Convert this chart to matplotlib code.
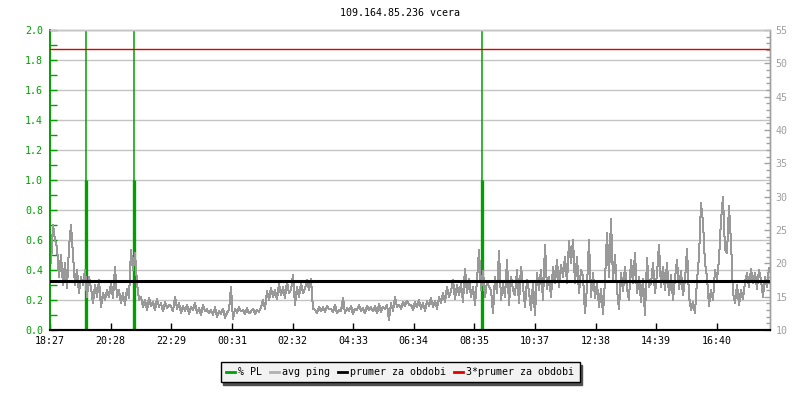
import matplotlib
matplotlib.use("Agg")
import matplotlib.pyplot as plt
from matplotlib.lines import Line2D
import numpy as np

# ---------------- data ----------------
title = "109.164.85.236 vcera"
start_label = "18:27"
tick_labels = ["18:27", "20:28", "22:29", "00:31", "02:32", "04:33",
               "06:34", "08:35", "10:37", "12:38", "14:39", "16:40"]
span_minutes = 1440
sample_step = 4  # minutes between ping samples

# average ping [ms], one value every 4 minutes starting at 18:27
avg_ping = [
    20.1, 25.8, 23.5, 22.4, 17.9, 21.2, 16.8, 20.1, 16.3, 22.4, 25.8, 21.2, 16.8, 19.0, 15.6, 17.9, 16.8, 19.0, 15.0, 17.9,
    16.3, 14.0, 16.8, 15.0, 17.5, 13.5, 15.6, 14.5, 16.0, 15.0, 17.0, 14.8, 19.5, 15.0, 16.0, 14.0, 15.5, 13.8, 16.2, 14.8,
    22.0, 19.0, 21.5, 17.0, 14.5, 15.0, 13.5, 14.5, 13.0, 14.8, 13.6, 14.2, 13.0, 14.6, 13.5, 14.0, 12.8, 14.2, 13.3, 13.8,
    13.5, 12.8, 15.0, 13.2, 14.0, 12.5, 13.6, 12.9, 13.8, 12.4, 13.5, 13.0, 14.1, 12.6, 13.3, 12.2, 13.7, 12.8, 13.1, 12.5,
    13.0, 12.3, 13.4, 12.0, 12.8, 12.4, 13.2, 11.8, 12.6, 13.0, 16.4, 11.6, 13.2, 12.6, 13.4, 12.8, 13.0, 12.4, 13.3, 12.5,
    12.8, 13.2, 12.4, 13.0, 12.7, 13.4, 14.5, 13.2, 15.8, 14.5, 16.3, 15.0, 16.0, 14.6, 17.0, 15.2, 16.4, 14.8, 17.3, 15.5,
    16.0, 18.2, 13.8, 16.5, 15.0, 17.0, 15.5, 16.2, 17.5, 16.0, 17.6, 13.2, 13.0, 12.6, 13.5, 12.8, 13.4, 12.7, 13.6, 13.1,
    13.2, 12.7, 13.8, 12.5, 13.0, 12.8, 14.8, 12.6, 13.3, 12.9, 13.6, 12.4, 13.2, 13.0, 13.7, 12.8, 13.3, 12.5, 13.6, 13.0,
    13.4, 12.8, 13.6, 12.5, 13.9, 12.7, 13.5, 13.1, 13.8, 11.5, 14.0, 12.9, 15.0, 13.5, 13.8, 13.2, 14.2, 13.6, 14.4, 13.8,
    13.8, 13.0, 14.2, 13.4, 14.5, 13.2, 14.0, 12.9, 14.3, 13.6, 14.8, 13.5, 14.4, 13.2, 14.9, 14.0, 15.5, 14.2, 16.5, 15.0,
    15.8, 17.5, 14.6, 16.8, 15.2, 17.0, 14.2, 19.2, 15.5, 17.6, 15.0, 16.4, 13.8, 17.5, 22.0, 16.0, 18.8, 15.0, 17.2, 16.5,
    16.0, 12.5, 18.0, 15.5, 21.8, 14.5, 17.0, 15.0, 20.5, 13.8, 18.0, 16.0, 15.2, 19.0, 14.0, 19.5, 16.5, 13.5, 17.5, 15.8,
    13.0, 17.0, 12.2, 18.5, 16.0, 19.0, 14.5, 22.8, 16.2, 18.0, 15.0, 19.5, 17.0, 20.5, 16.5, 19.8, 18.0, 21.0, 17.0, 23.4,
    20.0, 23.5, 17.0, 21.0, 15.5, 19.0, 18.0, 12.5, 16.5, 23.5, 15.0, 18.5, 14.8, 17.0, 13.5, 16.2, 12.4, 17.5, 24.5, 18.0,
    26.6, 17.5, 21.2, 16.0, 13.2, 18.5, 15.8, 19.5, 16.2, 14.5, 20.5, 17.0, 21.5, 15.5, 18.0, 14.2, 17.6, 12.2, 20.8, 16.5,
    17.0, 20.0, 15.5, 18.5, 22.8, 16.5, 19.5, 16.0, 20.0, 15.2, 18.2, 14.5, 17.8, 20.5, 16.2, 18.8, 15.2, 17.5, 22.2, 15.0,
    13.0, 14.2, 12.6, 17.5, 21.0, 29.0, 26.2, 20.0, 18.0, 13.6, 16.0, 14.5, 19.0, 17.5, 20.5, 26.5, 30.0, 22.0, 21.5, 28.6,
    23.2, 15.5, 14.0, 16.8, 13.8, 16.0, 14.6, 17.2, 18.5, 16.5, 19.2, 17.0, 18.6, 16.2, 19.0, 17.5, 15.0, 18.0, 16.5, 19.3,
]

# packet loss events
pl_times = ["19:39", "21:15", "08:51"]
pl_values = [1.0, 1.0, 1.0]

# average over period and 3*average [ms]
period_avg = 17.4
period_avg3 = 52.2

left_lim = (0.0, 2.0)
right_lim = (10, 55)

# ---------------- helpers ----------------
def minutes_after_start(label):
    h, m = map(int, label.split(":"))
    h0, m0 = map(int, start_label.split(":"))
    d = (h * 60 + m) - (h0 * 60 + m0)
    if d < 0:
        d += 1440
    return d

MONO = "DejaVu Sans Mono"
FS = 7.2
GREEN = "#00a000"
GRAY = "#999999"
GRID = "#c4c4c4"
AXGRAY = "#a0a0a0"

fig = plt.figure(figsize=(8, 4), dpi=100)
ax = fig.add_axes([50 / 800, 70 / 400, 720 / 800, 300 / 400])
ax2 = ax.twinx()

# ping line (right axis)
t = np.arange(len(avg_ping)) * sample_step + sample_step / 2
ax2.plot(t, avg_ping, color=GRAY, lw=0.72, zorder=2, antialiased=False)
ax2.axhline(period_avg, color="black", lw=2.2, zorder=3)
ax2.axhline(period_avg3, color="#e00000", lw=1.0, zorder=3)

# packet loss (left axis)
pl_x = [minutes_after_start(s) for s in pl_times]
for x, v in zip(pl_x, pl_values):
    ax.axvline(x, color=GREEN, lw=1.1, zorder=2)
    ax.vlines(x, 0, v, color=GREEN, lw=2.4, zorder=2)

ax.set_xlim(0, span_minutes)
ax.set_ylim(*left_lim)
ax2.set_ylim(*right_lim)

# grid
ax.set_yticks(np.arange(0, 2.01, 0.2))
ax.set_yticks(np.arange(0, 2.01, 0.1), minor=True)
ax.yaxis.grid(True, which="major", color=GRID, lw=1.0)
ax.set_axisbelow(True)
ax.set_yticklabels([f"{v:.1f}" for v in np.arange(0, 2.01, 0.2)])

ax2.set_yticks(np.arange(10, 56, 5))
ax2.set_yticks(np.arange(10, 56, 1), minor=True)

xt = [minutes_after_start(s) for s in tick_labels]
ax.set_xticks(xt)
ax.set_xticklabels(tick_labels)

ax.tick_params(axis="y", which="both", direction="in", length=5, width=1,
               color=GREEN, labelcolor=GREEN, pad=5)
ax.tick_params(axis="x", which="both", direction="in", length=5, width=1,
               color="black", labelcolor="black", pad=4)
ax2.tick_params(axis="y", which="major", direction="in", length=4, width=1,
                color=AXGRAY, labelcolor=AXGRAY, pad=4)
ax2.tick_params(axis="y", which="minor", direction="in", length=3, width=1,
                color=AXGRAY)

for lab in ax.get_yticklabels() + ax.get_xticklabels() + ax2.get_yticklabels():
    lab.set_fontfamily(MONO)
    lab.set_fontsize(FS)

for a in (ax, ax2):
    a.spines["left"].set_color(GREEN)
    a.spines["left"].set_linewidth(1.2)
    a.spines["bottom"].set_color("black")
    a.spines["bottom"].set_linewidth(1.5)
    a.spines["top"].set_color(GRID)
    a.spines["top"].set_linewidth(1.0)
    a.spines["right"].set_color(AXGRAY)
    a.spines["right"].set_linewidth(1.0)

fig.text(0.5, 1 - 13 / 400, title, ha="center", va="center",
         fontfamily=MONO, fontsize=FS, color="black")

handles = [
    Line2D([], [], color=GREEN, lw=2),
    Line2D([], [], color="#b0b0b0", lw=2),
    Line2D([], [], color="black", lw=2),
    Line2D([], [], color="#e00000", lw=2),
]
labels = ["% PL", "avg ping", "prumer za obdobi", "3*prumer za obdobi"]
leg = fig.legend(handles, labels, loc="center", bbox_to_anchor=(0.5, 1 - 372 / 400),
                 ncol=4, frameon=True, fancybox=False, shadow={"ox": 2, "oy": -2, "color": "#505050", "alpha": 1.0},
                 prop={"family": MONO, "size": FS}, handlelength=0.9,
                 handletextpad=0.4, columnspacing=0.7, borderpad=0.5,
                 framealpha=1)
leg.get_frame().set_facecolor("#f2f2f2")
leg.get_frame().set_edgecolor("black")
leg.get_frame().set_linewidth(1.0)

fig.savefig("out.png", dpi=100)
